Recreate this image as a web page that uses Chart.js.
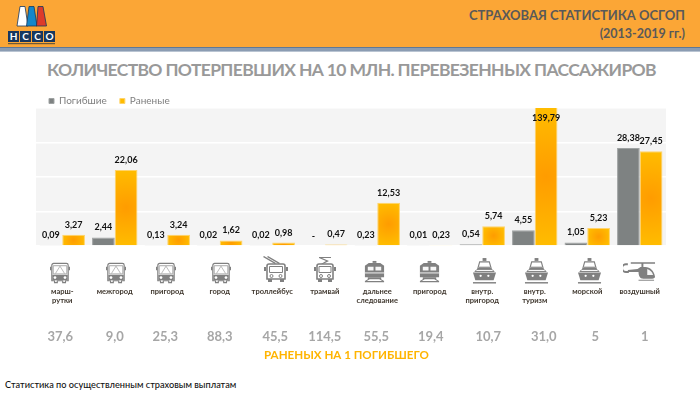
<!DOCTYPE html>
<html lang="ru">
<head>
  <meta charset="UTF-8">
  <title>Страховая статистика ОСГОП</title>
  <style>
    * { box-sizing: border-box; margin: 0; padding: 0; font-family: Lato, 'Open Sans', sans-serif; }
    html, body { width: 700px; height: 394px; overflow: hidden; background: #fff; }
    .head { position: absolute; left: 0; top: 0; width: 700px; height: 47px; background: #fba636; }
    .stripe { position: absolute; left: 0; top: 47px; width: 700px; height: 5px; background: #8b9cb2; border-top: 1px solid #5f7896; border-bottom: 1px solid #b9c4d2; }
    .t { position: absolute; white-space: nowrap; font-weight: bold; }
    .h1 { right: 15px; top: 7px; font-size: 13px; color: #595959; }
    .h2 { right: 15px; top: 26px; font-size: 12.5px; color: #595959; }
    .title { left: 47px; top: 59px; font-size: 17.5px; letter-spacing: -.65px; color: #999; }
    .under { left: 264px; top: 348px; font-size: 11.6px; color: #ffb400; }
    .foot { left: 5px; top: 379px; font-size: 9.2px; color: #111; font-weight: 500; }
    #wrap { position: absolute; left: 0; top: 83px; width: 700px; height: 269px; }
    #logo { position: absolute; left: 0; top: 0; }
    .icon { position: absolute; fill: #808080; stroke: none; }
  </style>
</head>
<body>
  <div class="head"></div>
  <div class="stripe"></div>
  <svg id="logo" width="70" height="47" viewBox="0 0 70 47">
    <path d="M20 6.500h5l3 19.500h-11z" fill="#fff" stroke="#17375e" stroke-width=".8"/>
    <path d="M29 6.500h5l3 19.500h-10.500z" fill="#1487c9" stroke="#17375e" stroke-width=".8"/>
    <path d="M38 6.500h5l3.500 19.500h-10z" fill="#dd3a2a" stroke="#17375e" stroke-width=".8"/>
    <g fill="#17375e">
      <rect x="8" y="31" width="11" height="11"/><rect x="20" y="31" width="11" height="11"/>
      <rect x="32" y="31" width="11" height="11"/><rect x="44" y="31" width="11" height="11"/>
    </g>
    <g fill="#fff" font-size="10" font-weight="bold" text-anchor="middle" font-family="Liberation Sans">
      <text x="13.500" y="40">Н</text><text x="25.500" y="40">С</text><text x="37.500" y="40">С</text><text x="49.500" y="40">О</text>
    </g>
    <rect x="8" y="43" width="47" height="1.200" fill="#6b5a3a"/>
  </svg>
  <div class="t h1">СТРАХОВАЯ СТАТИСТИКА ОСГОП</div>
  <div class="t h2">(2013-2019 гг.)</div>
  <div class="t title">КОЛИЧЕСТВО ПОТЕРПЕВШИХ НА 10 МЛН. ПЕРЕВЕЗЕННЫХ ПАССАЖИРОВ</div>
  <div id="wrap"><canvas id="chart"></canvas></div>
  <div class="t under">РАНЕНЫХ НА 1 ПОГИБШЕГО</div>
  <div class="t foot">Статистика по осуществленным страховым выплатам</div>

  <svg width="0" height="0" style="position:absolute">
    <symbol id="bus" viewBox="0 0 22 24">
      <path d="M4 1.500h14a2 2 0 0 1 2 2v17h-3v2h-3v-2h-6v2H5v-2H2v-17a2 2 0 0 1 2-2z" fill="none" stroke="#808080" stroke-width="1.300"/>
      <path d="M3.500 4h15v9h-15z" fill="none" stroke="#a0a0a0"/>
      <path d="M11 4.500l-5 8M11 4.500l5 8" stroke="#a0a0a0" fill="none" stroke-width=".8"/>
      <path d="M2.500 14h17v6h-17z"/>
      <circle cx="5.500" cy="17" r="1.500" fill="#fff"/><circle cx="16.500" cy="17" r="1.500" fill="#fff"/>
      <path d="M0 5h1.500v4H0zM20.500 5H22v4h-1.500z"/>
    </symbol>
    <symbol id="trolley" viewBox="0 0 28 28">
      <path d="M2 0l12 7 -1 1L1 1zM6 0l12 7 -1 1L5 1z"/>
      <path d="M7 8h14a2 2 0 0 1 2 2v13H5V10a2 2 0 0 1 2-2z" fill="none" stroke="#808080" stroke-width="1.600"/>
      <path d="M7.500 10.500h13v6h-13z" fill="none" stroke="#808080"/>
      <circle cx="9.500" cy="20" r="1.500" fill="none" stroke="#808080"/><circle cx="18.500" cy="20" r="1.500" fill="none" stroke="#808080"/>
      <path d="M6 23h4v3H6zM18 23h4v3h-4zM2 11h2v4H2zM24 11h2v4h-2z"/>
    </symbol>
    <symbol id="tram" viewBox="0 0 28 28">
      <path d="M8 1h12v1H11l7 3-6 3h-2l5-3-7-3z"/>
      <path d="M8 8h12a2 2 0 0 1 2 2v13H6V10a2 2 0 0 1 2-2z" fill="none" stroke="#808080" stroke-width="1.600"/>
      <path d="M8 10.500h12v6H8z" fill="none" stroke="#808080"/>
      <circle cx="10" cy="20" r="1.500" fill="none" stroke="#808080"/><circle cx="18" cy="20" r="1.500" fill="none" stroke="#808080"/>
      <path d="M7 23h4v3H7zM17 23h4v3h-4zM3 11h2v4H3zM23 11h2v4h-2z"/>
    </symbol>
    <symbol id="train" viewBox="0 0 24 26">
      <path d="M10 2h4v2h-4z"/>
      <path d="M6 4h12l4 3v12H2V7z"/>
      <path d="M5 8h6v4H5zM13 8h6v4h-6z" fill="#f6f6f6"/>
      <path d="M2 14h20v1H2z" fill="#f6f6f6"/>
      <path d="M5 19h14v2H5zM2 23h20v1.300H2zM5 21l-3 2h2l3-2zM19 21l3 2h-2l-3-2z"/>
    </symbol>
    <symbol id="ship" viewBox="0 0 26 28">
      <path d="M11 0h4v3h-4z"/>
      <path d="M8 4h10l2 7H6z" fill="#fff" stroke="#808080" stroke-width="1.200"/>
      <path d="M7 9h12v1.200H7z"/>
      <path d="M5 12h16l2 2H3z" fill="#fff" stroke="#808080"/>
      <path d="M1 15h24l-2.500 8h-19z"/>
      <circle cx="9" cy="18.500" r="1.200" fill="#fff"/><circle cx="17" cy="18.500" r="1.200" fill="#fff"/>
      <path d="M1 25h24v1.500H1z"/>
    </symbol>
    <symbol id="heli" viewBox="0 0 34 20">
      <path d="M8 1h25v1.500H8zM19 2.500h2V6h-2z"/>
      <path d="M18 6h5c5 0 9 4 10 10 0 1-1 2-3 2h-9c-4 0-5-4-5-7l-11 0v-2l10-1z"/>
      <path d="M25 8c3 1 5 3 6 6h-6z" fill="#f6f6f6"/>
      <path d="M3 2a5 5 0 0 0 0 10h3v-2H3a3 3 0 0 1 0-6h2V2z"/>
      <path d="M16 19h16v1H16z"/>
    </symbol>
  </svg>

  <script src="https://cdn.jsdelivr.net/npm/chart.js"></script>
  <script>
    const categories = [['марш-', 'рутки'], 'межгород', 'пригород', 'город', 'троллейбус', 'трамвай',
      ['дальнее', 'следование'], 'пригород', ['внутр.', 'пригород'], ['внутр.', 'туризм'], 'морской', 'воздушный'];
    const killed = [0.09, 2.44, 0.13, 0.02, 0.02, null, 0.23, 0.01, 0.54, 4.55, 1.05, 28.38];
    const wounded = [3.27, 22.06, 3.24, 1.62, 0.98, 0.47, 12.53, 0.23, 5.74, 139.79, 5.23, 27.45];
    const perKilled = ['37,6', '9,0', '25,3', '88,3', '45,5', '114,5', '55,5', '19,4', '10,7', '31,0', '5', '1'];
    const iconNames = ['bus', 'bus', 'bus', 'bus', 'trolley', 'tram', 'train', 'train', 'ship', 'ship', 'ship', 'heli'];
    const iconNudge = [-2, 1, -1, 1, 4, 0, -3, 0, 2, 2, 2, 0];
    const ratioNudge = [-2, 0, -2, 0, 3, 0, -1, 1, 6, 9, 8, 5];

    // icon box: width, height, top edge on the page
    const iconBox = {
      bus: [20, 22, 262], trolley: [28, 28, 256], tram: [28, 28, 256],
      train: [23, 25, 259], ship: [25, 27, 258], heli: [33, 20, 261]
    };

    function fmt(v) {
      return v == null ? '-' : v.toFixed(2).replace('.', ',');
    }

    function woundedFill(ctx) {
      const bar = ctx.chart.getDatasetMeta(1).data[ctx.dataIndex];
      const area = ctx.chart.chartArea;
      if (!bar || bar.x == null || !area || isNaN(bar.y)) return '#ffad00';
      const top = Math.max(bar.y, area.top);
      const h = bar.base - top;
      const r = Math.max(bar.width || 22, h) / 2;
      const g = ctx.chart.ctx.createRadialGradient(bar.x, top + h / 2, 0, bar.x, top + h / 2, r);
      g.addColorStop(0, '#ff9c00');
      g.addColorStop(1, '#ffbc00');
      return g;
    }

    const plotBack = {
      id: 'plotBack',
      beforeInit(chart) {
        // legend height is fixed so the plot starts right under it
        const fit = chart.legend.fit;
        chart.legend.fit = function () {
          fit.call(this);
          this.height = 25;
        };
      },
      beforeDraw(chart) {
        const a = chart.chartArea;
        chart.ctx.fillStyle = '#f4f4f4';
        chart.ctx.fillRect(a.left, a.top, a.width, a.height);
      }
    };

    const valueLabels = {
      id: 'valueLabels',
      afterDatasetsDraw(chart) {
        const c = chart.ctx;
        c.save();
        c.font = 'bold 9px Lato, "Open Sans", sans-serif';
        c.fillStyle = '#111';
        c.textAlign = 'center';
        c.textBaseline = 'middle';
        chart.data.datasets.forEach((ds, d) => {
          chart.getDatasetMeta(d).data.forEach((bar, i) => {
            const base = chart.scales.y.getPixelForValue(0);
            const y = ds.data[i] == null ? base - 10 : Math.max(bar.y - 10, chart.chartArea.top + 10);
            const x = ds.data[i] == null ? chart.scales.x.getPixelForValue(i) - 11.300 : bar.x;
            c.fillText(fmt(ds.data[i]), x, y);
          });
        });
        // ratio row under the axis
        c.font = 'bold 13px Lato, "Open Sans", sans-serif';
        c.fillStyle = '#a6a6a6';
        perKilled.forEach((t, i) => {
          c.fillText(t, chart.scales.x.getPixelForValue(i) + ratioNudge[i], 254);
        });
        c.restore();
      }
    };

    const chart = new Chart(document.getElementById('chart'), {
      type: 'bar',
      data: {
        labels: categories,
        datasets: [
          { label: 'Погибшие', data: killed, backgroundColor: '#7e8282', borderColor: '#9fa3a3', borderWidth: 1, minBarLength: 1 },
          { label: 'Раненые', data: wounded, backgroundColor: woundedFill, borderColor: '#ffd36a', borderWidth: 1, minBarLength: 1 }
        ]
      },
      plugins: [plotBack, valueLabels],
      options: {
        responsive: true,
        maintainAspectRatio: false,
        animation: false,
        layout: { padding: { left: 36, right: 34, top: 0, bottom: 0 } },
        datasets: { bar: { categoryPercentage: 0.865, barPercentage: 1 } },
        plugins: {
          tooltip: { enabled: false },
          legend: {
            position: 'top',
            align: 'start',
            labels: { boxWidth: 5, boxHeight: 5, padding: 13, color: '#7f7f7f', font: { size: 10, family: 'Lato, "Open Sans", sans-serif' } }
          }
        },
        scales: {
          x: {
            afterFit(scale) {
              scale.height = 106;
              // tick padding would otherwise eat into the right edge of the plot
              scale.paddingLeft = 0;
              scale.paddingRight = 0;
            },
            grid: { display: false, drawTicks: false },
            border: { display: false },
            ticks: {
              autoSkip: false, maxRotation: 0, padding: 41, color: '#40382f',
              font: { size: 7.500, weight: 'bold', family: 'Lato, "Open Sans", sans-serif', lineHeight: 1.200 }
            }
          },
          y: {
            min: 0, max: 40,
            afterFit(scale) { scale.width = 0; },
            grid: { color: '#fff', lineWidth: 1.500, drawTicks: false },
            border: { display: false },
            ticks: { display: false, stepSize: 10 }
          }
        }
      }
    });
    chart.update('none');

    iconNames.forEach((name, i) => {
      const box = iconBox[name];
      const svg = document.createElementNS('http://www.w3.org/2000/svg', 'svg');
      svg.setAttribute('class', 'icon');
      svg.setAttribute('width', box[0]);
      svg.setAttribute('height', box[1]);
      const x = chart.scales.x.getPixelForValue(i) + iconNudge[i] - box[0] / 2;
      svg.style.left = x + 'px';
      svg.style.top = box[2] + 'px';
      const use = document.createElementNS('http://www.w3.org/2000/svg', 'use');
      use.setAttribute('href', '#' + name);
      svg.appendChild(use);
      document.body.appendChild(svg);
    });
  </script>
</body>
</html>
